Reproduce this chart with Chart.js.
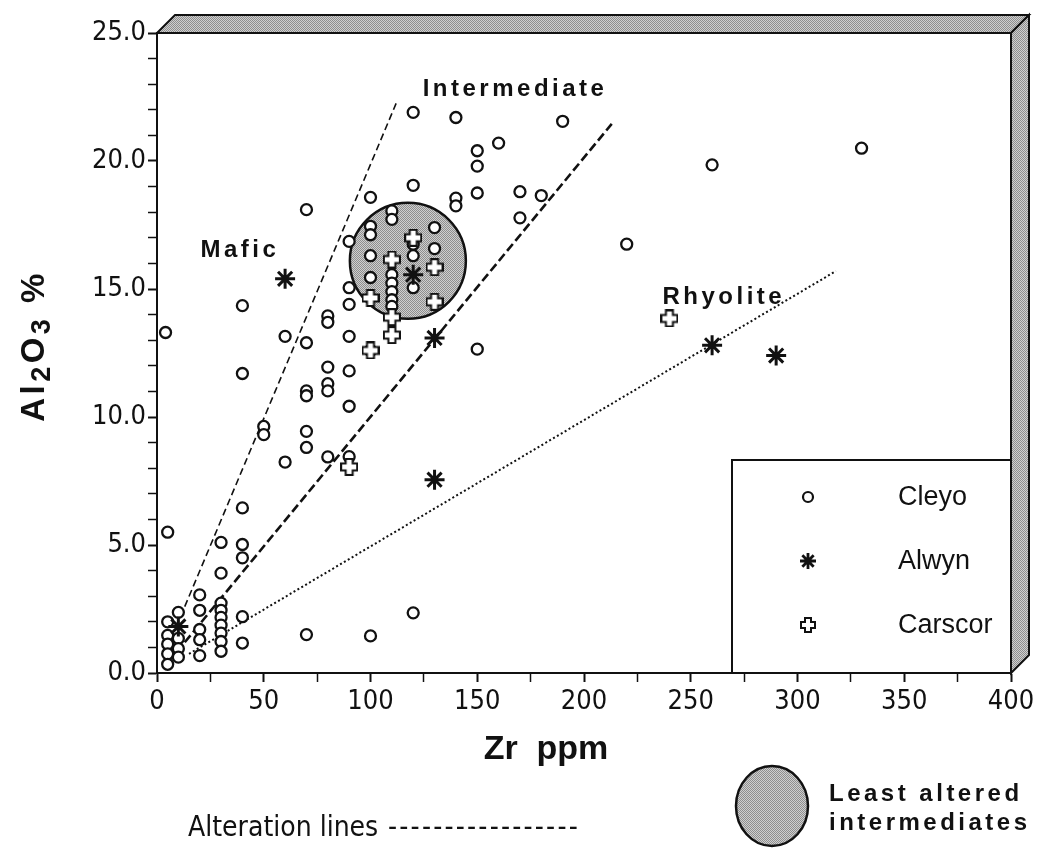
<!DOCTYPE html>
<html>
<head>
<meta charset="utf-8">
<title>Al2O3 vs Zr</title>
<script src="https://cdn.jsdelivr.net/npm/chart.js@4.4.1/dist/chart.umd.min.js"></script>
<style>
  html, body { margin: 0; padding: 0; background: #fff; }
  #wrap { position: relative; width: 1046px; height: 850px; }
</style>
</head>
<body>
<div id="wrap"><canvas id="chart" width="1046" height="850"></canvas></div>
<script>
// Cleyo samples (Zr ppm / Al2O3 %)
const cleyoZr = [
  5, 5, 5, 5, 5, 5,
  10, 10, 10, 10,
  20, 20, 20, 20, 20,
  30, 30, 30, 30, 30, 30, 30, 30, 30,
  40, 40, 40, 40, 40,
  70, 100, 120,
  4, 40, 40, 60, 70, 80, 80, 90, 90, 90, 80, 80, 80, 70, 70, 90, 90,
  50, 50, 70, 70, 60, 80, 90, 100, 150,
  70, 100, 120, 140, 160, 150, 150, 150, 120, 140, 140, 90,
  110, 110, 100, 100, 100, 130, 130, 120, 120, 100,
  110, 110, 110, 110, 110, 120,
  190, 170, 180, 170, 220, 260, 330
];
const cleyoAl = [
  5.5, 2.0, 1.47, 1.13, 0.75, 0.34,
  2.37, 1.35, 0.95, 0.62,
  3.05, 2.45, 1.7, 1.3, 0.68,
  5.1, 3.9, 2.73, 2.45, 2.17, 1.87, 1.56, 1.23, 0.85,
  6.45, 5.02, 4.5, 2.2, 1.17,
  1.5, 1.45, 2.35,
  13.3, 14.35, 11.7, 13.15, 12.9, 13.95, 13.7, 15.05, 14.4, 13.15, 11.95, 11.3, 11.02, 11.02, 10.83, 11.8, 10.42,
  9.63, 9.31, 9.44, 8.81, 8.24, 8.44, 8.45, 12.6, 12.65,
  18.1, 18.58, 21.9, 21.7, 20.7, 20.4, 19.8, 18.75, 19.05, 18.55, 18.25, 16.86,
  18.05, 17.72, 17.45, 17.12, 16.3, 17.4, 16.58, 16.75, 16.3, 15.45,
  15.56, 15.23, 14.9, 14.58, 14.32, 15.05,
  21.55, 18.8, 18.65, 17.78, 16.75, 19.85, 20.5
];

// Alwyn samples
const alwynZr = [10, 60, 120, 130, 130, 260, 290];
const alwynAl = [1.82, 15.4, 15.56, 13.09, 7.55, 12.8, 12.4];

// Carscor samples
const carscorZr = [90, 100, 110, 110, 100, 130, 130, 110, 120, 240];
const carscorAl = [8.05, 12.6, 13.2, 13.9, 14.65, 14.5, 15.85, 16.15, 17.0, 13.85];

// alteration lines (end points)
const maficZr = [9, 112];
const maficAl = [1.8, 22.25];
const interZr = [13, 213];
const interAl = [1.2, 21.45];
const rhyoZr = [15, 318];
const rhyoAl = [0.75, 15.7];

// least altered intermediates field (centre)
const fieldZr = [117.5];
const fieldAl = [16.1];

const seriesNames = ['Cleyo', 'Alwyn', 'Carscor'];
const zones = [
  { text: 'Mafic', zr: 38.8, al: 16.5 },
  { text: 'Intermediate', zr: 167.7, al: 22.8 },
  { text: 'Rhyolite', zr: 265.5, al: 14.66 }
];

const INK = '#111';
const NARROW = '"Liberation Sans Narrow", "DejaVu Sans Condensed", "Liberation Sans", Arial, sans-serif';
const SANS = '"Liberation Sans", Arial, Helvetica, sans-serif';

const toPoints = (xs, ys) => xs.map((x, i) => ({ x, y: ys[i] }));

// dithered grey used for the shaded frame and the field
function makeShade() {
  const c = document.createElement('canvas');
  c.width = 4; c.height = 4;
  const g = c.getContext('2d');
  for (let i = 0; i < 4; i++) {
    for (let j = 0; j < 4; j++) {
      g.fillStyle = (i + j) % 2 === 0 ? '#8e8e8e' : '#cfcfcf';
      g.fillRect(i, j, 1, 1);
    }
  }
  return g.createPattern(c, 'repeat');
}

// hollow greek cross marker
function makePlus(size, arm, lw) {
  const c = document.createElement('canvas');
  c.width = c.height = size;
  const g = c.getContext('2d');
  const m = size / 2, h = arm / 2;
  const a = m - h, b = m + h, lo = lw / 2, hi = size - lw / 2;
  g.beginPath();
  g.moveTo(a, lo); g.lineTo(b, lo); g.lineTo(b, a); g.lineTo(hi, a);
  g.lineTo(hi, b); g.lineTo(b, b); g.lineTo(b, hi); g.lineTo(a, hi);
  g.lineTo(a, b); g.lineTo(lo, b); g.lineTo(lo, a); g.lineTo(a, a);
  g.closePath();
  g.fillStyle = '#fff'; g.fill();
  g.lineWidth = lw; g.strokeStyle = INK; g.stroke();
  return c;
}

const shade = makeShade();
const plusMark = makePlus(18, 7, 2);
const plusLegend = makePlus(16, 6, 2);
const DEPTH = 18;

const markers = [
  { pointStyle: 'circle', radius: 5, borderWidth: 2.2 },
  { pointStyle: 'star', radius: 8, borderWidth: 2.8 },
  { pointStyle: plusLegend, radius: 8, borderWidth: 0 }
];

const decor = {
  id: 'decor',
  beforeDraw(chart) {
    const { ctx, chartArea: a } = chart;
    ctx.save();
    ctx.fillStyle = '#fff';
    ctx.fillRect(0, 0, chart.width, chart.height);
    ctx.fillStyle = shade;
    ctx.strokeStyle = INK;
    ctx.lineWidth = 2;
    ctx.lineJoin = 'miter';
    // top face
    ctx.beginPath();
    ctx.moveTo(a.left, a.top);
    ctx.lineTo(a.left + DEPTH, a.top - DEPTH);
    ctx.lineTo(a.right + DEPTH, a.top - DEPTH);
    ctx.lineTo(a.right, a.top);
    ctx.closePath();
    ctx.fill(); ctx.stroke();
    // right face
    ctx.beginPath();
    ctx.moveTo(a.right, a.top);
    ctx.lineTo(a.right + DEPTH, a.top - DEPTH);
    ctx.lineTo(a.right + DEPTH, a.bottom - DEPTH);
    ctx.lineTo(a.right, a.bottom);
    ctx.closePath();
    ctx.fill(); ctx.stroke();
    ctx.restore();
  },
  afterDraw(chart) {
    const { ctx, chartArea: a, scales } = chart;
    ctx.save();
    ctx.strokeStyle = INK;
    ctx.lineWidth = 2;
    ctx.beginPath();
    ctx.moveTo(a.left, a.top); ctx.lineTo(a.right, a.top); ctx.lineTo(a.right, a.bottom);
    ctx.stroke();

    // zone labels
    ctx.fillStyle = INK;
    ctx.font = 'bold 24px ' + SANS;
    ctx.letterSpacing = '3.5px';
    ctx.textAlign = 'center';
    ctx.textBaseline = 'middle';
    zones.forEach(z => {
      ctx.fillText(z.text, scales.x.getPixelForValue(z.zr), scales.y.getPixelForValue(z.al));
    });

    // legend box
    const lx = a.right - 279, ly = a.bottom - 213;
    ctx.fillStyle = '#fff';
    ctx.fillRect(lx, ly, a.right - lx, a.bottom - ly);
    ctx.strokeRect(lx, ly, a.right - lx, a.bottom - ly);
    ctx.letterSpacing = '0px';
    ctx.font = '27px ' + SANS;
    ctx.textAlign = 'left';
    seriesNames.forEach((name, i) => {
      const y = ly + 37 + i * 64;
      ctx.fillStyle = '#fff';
      ctx.strokeStyle = INK;
      const m = markers[i];
      ctx.lineWidth = m.borderWidth || 1;
      Chart.helpers.drawPoint(ctx, { pointStyle: m.pointStyle, rotation: 0, radius: m.radius, borderWidth: m.borderWidth }, lx + 76, y);
      ctx.fillStyle = INK;
      ctx.fillText(name, lx + 166, y + 1);
    });

    // y axis title with subscripts
    const parts = [['Al', false], ['2', true], ['O', false], ['3', true], [' %', false]];
    const big = 'bold 33px ' + SANS, small = 'bold 27px ' + SANS;
    ctx.letterSpacing = '3.5px';
    let total = 0;
    parts.forEach(p => { ctx.font = p[1] ? small : big; total += ctx.measureText(p[0]).width; });
    ctx.translate(32, 346);
    ctx.rotate(-Math.PI / 2);
    ctx.textAlign = 'left';
    ctx.textBaseline = 'alphabetic';
    let px = -total / 2;
    parts.forEach(p => {
      ctx.font = p[1] ? small : big;
      ctx.fillText(p[0], px, p[1] ? 18 : 12);
      px += ctx.measureText(p[0]).width;
    });
    ctx.setTransform(1, 0, 0, 1, 0, 0);
    ctx.letterSpacing = '0px';

    // x axis title
    ctx.font = 'bold 34px ' + SANS;
    ctx.textAlign = 'center';
    ctx.textBaseline = 'middle';
    ctx.fillText('Zr  ppm', 546, 750);

    // key for the lines and the field
    ctx.font = '28px ' + NARROW;
    ctx.textAlign = 'left';
    ctx.textBaseline = 'alphabetic';
    ctx.fillText('Alteration lines', 188, 836);
    ctx.letterSpacing = '2.2px';
    ctx.fillText('-----------------', 388, 836);
    ctx.letterSpacing = '0px';

    ctx.beginPath();
    ctx.ellipse(772, 806, 36, 40, 0, 0, Math.PI * 2);
    ctx.fillStyle = shade;
    ctx.fill();
    ctx.lineWidth = 2.5;
    ctx.stroke();

    ctx.fillStyle = INK;
    ctx.font = 'bold 24px ' + SANS;
    ctx.letterSpacing = '3.5px';
    ctx.fillText('Least altered', 829, 801);
    ctx.fillText('intermediates', 829, 830);
    ctx.restore();
  }
};

const tickFont = { family: NARROW, size: 27 };

new Chart(document.getElementById('chart'), {
  type: 'scatter',
  data: {
    datasets: [
      {
        type: 'bubble',
        label: 'Least altered intermediates',
        data: fieldZr.map((x, i) => ({ x, y: fieldAl[i], r: 58 })),
        backgroundColor: shade,
        borderColor: INK,
        borderWidth: 2.5,
        order: 10
      },
      {
        type: 'line',
        label: 'Mafic',
        data: toPoints(maficZr, maficAl),
        borderColor: INK,
        borderWidth: 1.6,
        borderDash: [7, 4],
        pointRadius: 0,
        fill: false,
        order: 5
      },
      {
        type: 'line',
        label: 'Intermediate',
        data: toPoints(interZr, interAl),
        borderColor: INK,
        borderWidth: 2.6,
        borderDash: [9, 4],
        pointRadius: 0,
        fill: false,
        order: 5
      },
      {
        type: 'line',
        label: 'Rhyolite',
        data: toPoints(rhyoZr, rhyoAl),
        borderColor: INK,
        borderWidth: 2,
        borderDash: [2, 2.5],
        pointRadius: 0,
        fill: false,
        order: 5
      },
      {
        label: 'Cleyo',
        data: toPoints(cleyoZr, cleyoAl),
        pointStyle: 'circle',
        pointRadius: 5.5,
        pointBorderWidth: 2.3,
        pointBorderColor: INK,
        pointBackgroundColor: '#fff',
        order: 2
      },
      {
        label: 'Carscor',
        data: toPoints(carscorZr, carscorAl),
        pointStyle: plusMark,
        pointRadius: 9,
        order: 1
      },
      {
        label: 'Alwyn',
        data: toPoints(alwynZr, alwynAl),
        pointStyle: 'star',
        pointRadius: 10,
        pointBorderWidth: 3,
        pointBorderColor: INK,
        order: 0
      }
    ]
  },
  options: {
    responsive: false,
    animation: false,
    events: [],
    layout: { autoPadding: false, padding: { left: 87, right: 35, top: 33, bottom: 137 } },
    plugins: {
      legend: { display: false },
      tooltip: { enabled: false }
    },
    scales: {
      x: {
        type: 'linear',
        min: 0,
        max: 400,
        afterFit(s) { s.height = 40; },
        border: { color: INK, width: 2 },
        grid: {
          drawOnChartArea: false,
          drawTicks: true,
          tickLength: 9,
          tickColor: INK,
          tickWidth: c => (c.tick && c.tick.value % 50 === 0 ? 2 : 1.5)
        },
        ticks: {
          stepSize: 25,
          autoSkip: false,
          maxRotation: 0,
          padding: 4,
          color: INK,
          font: tickFont,
          callback: v => (v % 50 === 0 ? String(v) : '')
        }
      },
      y: {
        type: 'linear',
        min: 0,
        max: 25,
        afterFit(s) { s.width = 70; },
        border: { color: INK, width: 2 },
        grid: {
          drawOnChartArea: false,
          drawTicks: true,
          tickLength: 9,
          tickColor: INK,
          tickWidth: c => (c.tick && c.tick.value % 5 === 0 ? 2 : 1.5)
        },
        ticks: {
          stepSize: 1,
          autoSkip: false,
          padding: 2,
          color: INK,
          font: tickFont,
          callback: v => (v % 5 === 0 ? v.toFixed(1) : '')
        }
      }
    }
  },
  plugins: [decor]
});
</script>
</body>
</html>
